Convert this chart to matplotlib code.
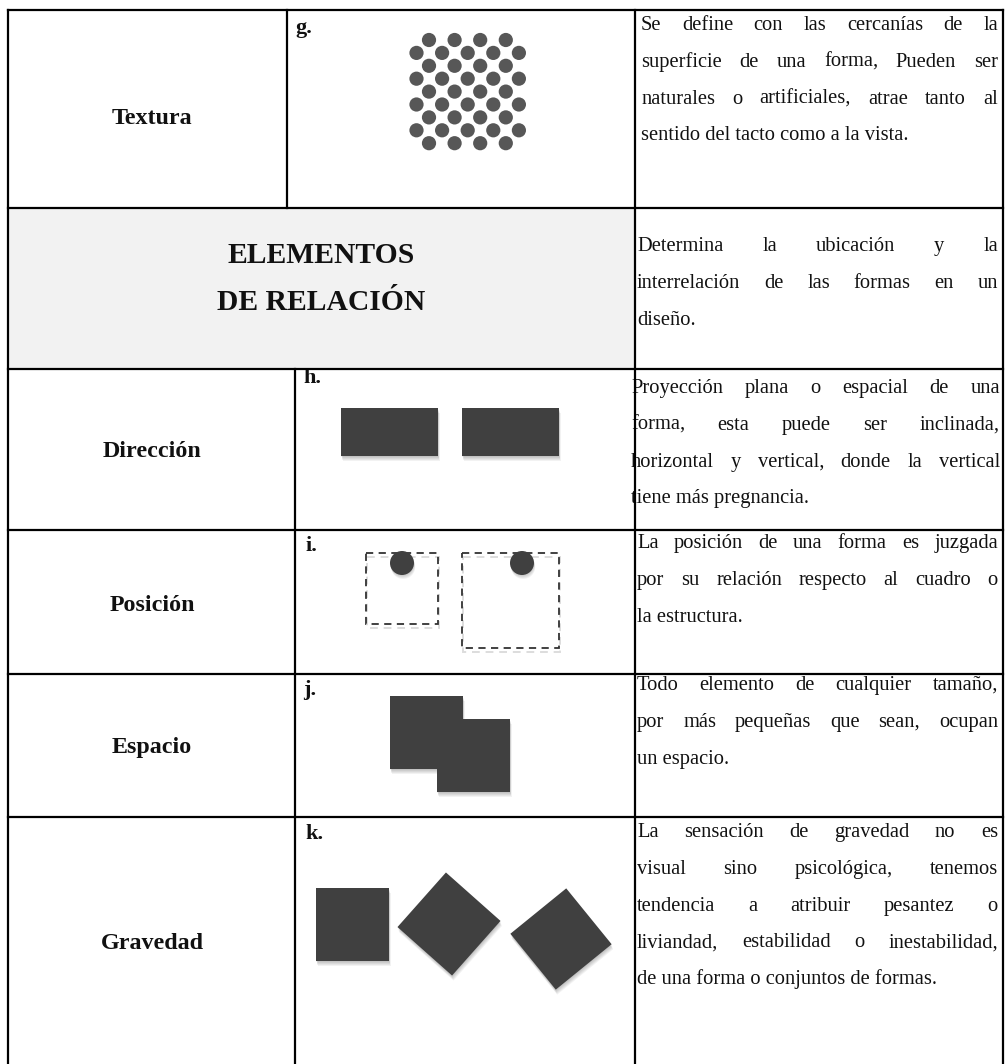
import numpy as np
import matplotlib
matplotlib.use('Agg')
import matplotlib.pyplot as plt
from matplotlib.patches import Rectangle, Circle, Polygon

# Contenido de la tabla
labels = ['Textura', 'Dirección', 'Posición', 'Espacio', 'Gravedad']
letters = ['g.', 'h.', 'i.', 'j.', 'k.']
header = ['ELEMENTOS', 'DE RELACIÓN']

desc_textura = ['Se define con las cercanías de la',
                'superficie de una forma, Pueden ser',
                'naturales o artificiales, atrae tanto al',
                'sentido del tacto como a la vista.']
desc_relacion = ['Determina la ubicación y la',
                 'interrelación de las formas en un',
                 'diseño.']
desc_direccion = ['Proyección plana o espacial de una',
                  'forma, esta puede ser inclinada,',
                  'horizontal y vertical, donde la vertical',
                  'tiene más pregnancia.']
desc_posicion = ['La posición de  una forma es juzgada',
                 'por su relación respecto al cuadro o',
                 'la estructura.']
desc_espacio = ['Todo elemento de cualquier tamaño,',
                'por más pequeñas que sean, ocupan',
                'un espacio.']
desc_gravedad = ['La sensación de gravedad no es',
                 'visual sino psicológica, tenemos',
                 'tendencia a atribuir pesantez o',
                 'liviandad, estabilidad o inestabilidad,',
                 'de una forma o conjuntos de formas.']

# Geometria (en pixeles de la imagen)
row_edges = [10, 208, 369, 530, 674, 817, 1064]
x_left, x_right = 8, 1003
x_div_top, x_div_low, x_desc = 287, 295, 635

# Textura: filas de circulos alternando 4 y 5
tex_counts = [4, 5, 4, 5, 4, 5, 4, 5, 4]

# Direccion: dos rectangulos (x, y, ancho, alto)
dir_rects = [(341, 408, 97, 48), (462, 408, 97, 48)]
# Posicion: cuadros discontinuos y circulos
pos_boxes = [(366, 553, 72, 71), (462, 553, 97, 95)]
pos_dots = [(402, 563), (522, 563)]
# Espacio: dos cuadrados superpuestos
esp_squares = [(390, 696, 73), (437, 719, 73)]
# Gravedad: cuadrado recto y dos rotados (cx, cy, lado, angulo)
grav_squares = [(352.5, 924.5, 73, 0), (449, 924, 73, 41.6), (561, 939, 72, 50.9)]

dark = '#404040'

fig = plt.figure(figsize=(10.05, 10.64), dpi=100)
ax = fig.add_axes([0, 0, 1, 1])
ax.set_xlim(0, 1005)
ax.set_ylim(1064, 0)
ax.axis('off')
renderer = fig.canvas.get_renderer()

body = dict(family='Liberation Serif', fontsize=14.8, color='#111111')
bold = dict(family='Liberation Serif', fontsize=17.3, fontweight='bold', color='#111111')


def justified(lines, x0, x1, y0, dy=36.8):
    for i, line in enumerate(lines):
        y = y0 + i * dy
        words = line.split()
        if i == len(lines) - 1 or len(words) == 1:
            ax.text(x0, y, line, va='baseline', ha='left', **body)
            continue
        txts = [ax.text(0, y, w, va='baseline', ha='left', **body) for w in words]
        widths = [t.get_window_extent(renderer).width for t in txts]
        gap = (x1 - x0 - sum(widths)) / (len(words) - 1)
        x = x0
        for t, w in zip(txts, widths):
            t.set_x(x)
            x += w + gap


def shadow_poly(pts, z=2):
    for k in range(1, 6):
        ax.add_patch(Polygon(np.array(pts) + [0.3 * k, 1.0 * k], closed=True,
                             facecolor='black', edgecolor='none', alpha=0.05, zorder=z))
    ax.add_patch(Polygon(pts, closed=True, facecolor=dark, edgecolor='none', zorder=z + 1))


def square_pts(cx, cy, s, ang):
    h = s / 2
    c = np.array([[-h, -h], [h, -h], [h, h], [-h, h]])
    a = np.deg2rad(ang)
    R = np.array([[np.cos(a), -np.sin(a)], [np.sin(a), np.cos(a)]])
    return c @ R.T + [cx, cy]


# fondo gris de la fila de encabezado
ax.add_patch(Rectangle((x_left, row_edges[1]), x_desc - x_left, row_edges[2] - row_edges[1],
                       facecolor='#f2f2f2', edgecolor='none', zorder=0))

# lineas de la tabla
lw = 1.6
for y in row_edges[:-1]:
    ax.plot([x_left, x_right], [y, y], color='black', lw=lw, zorder=10, solid_capstyle='projecting')
ax.plot([x_left, x_left], [row_edges[0], row_edges[-1]], color='black', lw=lw, zorder=10)
ax.plot([x_right, x_right], [row_edges[0], row_edges[-1]], color='black', lw=lw, zorder=10)
ax.plot([x_desc, x_desc], [row_edges[0], row_edges[-1]], color='black', lw=lw, zorder=10)
ax.plot([x_div_top, x_div_top], [row_edges[0], row_edges[1]], color='black', lw=lw, zorder=10)
ax.plot([x_div_low, x_div_low], [row_edges[2], row_edges[-1]], color='black', lw=lw, zorder=10)

# textos de la primera columna
label_base = [124, 457, 611, 753, 949]
for lab, yb in zip(labels, label_base):
    ax.text(152, yb, lab, ha='center', va='baseline', **bold)
letter_pos = [(295, 33), (303, 383), (305, 551), (303, 695), (305, 839)]
for let, (lx, ly) in zip(letters, letter_pos):
    ax.text(lx, ly, let, ha='left', va='baseline', family='Liberation Serif',
            fontsize=16, fontweight='bold', color='#111111')

hdr = dict(bold)
hdr['fontsize'] = 21.3
ax.text(321, 263, header[0], ha='center', va='baseline', **hdr)
ax.text(321, 310, header[1], ha='center', va='baseline', **hdr)

# descripciones justificadas
justified(desc_textura, 641, 998, 30)
justified(desc_relacion, 637, 998, 251)
justified(desc_direccion, 631, 1000, 393)
justified(desc_posicion, 637, 998, 548)
justified(desc_espacio, 637, 998, 690)
justified(desc_gravedad, 637, 998, 837)

# textura de circulos
for r, n in enumerate(tex_counts):
    cy = 40 + r * 12.9
    x0 = 429 if n == 4 else 416.5
    for c in range(n):
        ax.add_patch(Circle((x0 + c * 25.6, cy), 7.1, facecolor='#575757', edgecolor='none', zorder=3))

# direccion
for x, y, w, h in dir_rects:
    shadow_poly([(x, y), (x + w, y), (x + w, y + h), (x, y + h)])

# posicion
for x, y, w, h in pos_boxes:
    ax.add_patch(Rectangle((x + 1, y + 4), w, h, fill=False, edgecolor='#bbbbbb', lw=1.4,
                           linestyle=(0, (4, 3)), alpha=0.5, zorder=2))
    ax.add_patch(Rectangle((x, y), w, h, fill=False, edgecolor='#333333', lw=1.3,
                           linestyle=(0, (4, 3)), zorder=3))
for cx, cy in pos_dots:
    for k in range(1, 5):
        ax.add_patch(Circle((cx + 0.3 * k, cy + 1.0 * k), 12, facecolor='black', edgecolor='none',
                            alpha=0.05, zorder=3))
    ax.add_patch(Circle((cx, cy), 12, facecolor=dark, edgecolor='none', zorder=4))

# espacio
for i, (x, y, s) in enumerate(esp_squares):
    shadow_poly([(x, y), (x + s, y), (x + s, y + s), (x, y + s)], z=2 + 3 * i)

# gravedad
for cx, cy, s, ang in grav_squares:
    shadow_poly(square_pts(cx, cy, s, ang))

fig.savefig('out.png', dpi=100, facecolor='white')
